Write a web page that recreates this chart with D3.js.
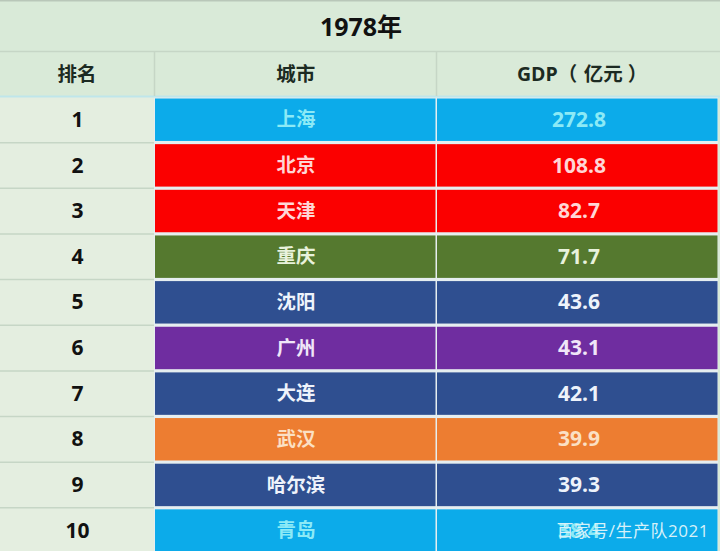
<!DOCTYPE html>
<html>
<head>
<meta charset="utf-8">
<script src="https://cdn.jsdelivr.net/npm/d3@7"></script>
<style>
html,body{margin:0;padding:0;background:#dcead9;overflow:hidden;}
text{font-family:"Open Sans","Noto Sans CJK SC",sans-serif;font-weight:700;}
</style>
</head>
<body>
<svg class="chart" width="720" height="551"></svg>
<script>
var title = "1978年";
var headers = ["排名","城市"];
var gdpHeader = ["GDP","（","亿元","）"];
var ranks = [1,2,3,4,5,6,7,8,9,10];
var cities = ["上海","北京","天津","重庆","沈阳","广州","大连","武汉","哈尔滨","青岛"];
var gdp = [272.8,108.8,82.7,71.7,43.6,43.1,42.1,39.9,39.3,38.4];
var regions = ["华东","华北","华北","西南","东北","华南","东北","华中","东北","华东"];
var regionNames = ["华东","华北","西南","东北","华南","华中"];
var watermark = "百家号/生产队2021";

var width = 720, height = 551;
var svg = d3.select(".chart");

var fill = d3.scaleOrdinal().domain(regionNames).range(["#0cabea","#fb0000","#55792f","#2f4f90","#6f2da0","#ed7d31"]);
var ink = d3.scaleOrdinal().domain(regionNames).range(["#8ceaf6","#ffd6d6","#e8f2dc","#eef3fb","#f0e6f8","#fbe0c4"]);

var y = d3.scaleBand().domain(ranks).range([97.5,554]);
var colX = [0,155,436.5,717.5];

// page background, slightly lighter in the rank column
svg.append("rect").attr("width",width).attr("height",height).attr("fill","#d9ead8");
svg.append("rect").attr("y",97).attr("width",154).attr("height",height-97).attr("fill","#e4eee0");
svg.append("rect").attr("x",154).attr("y",97).attr("width",564).attr("height",height-97).attr("fill","#e6eef0");
svg.append("rect").attr("width",width).attr("height",1.5).attr("fill","#b9c7b9");

var rule = "#c6d6c6";
svg.append("line").attr("x1",0).attr("x2",width).attr("y1",51.5).attr("y2",51.5).attr("stroke",rule).attr("stroke-width",1.5);
svg.append("line").attr("x1",0).attr("x2",width).attr("y1",96.5).attr("y2",96.5).attr("stroke","#bfe6ea").attr("stroke-width",2);
[colX[1]-0.5,colX[2]].forEach(function(x){
	svg.append("line").attr("x1",x).attr("x2",x).attr("y1",52).attr("y2",96).attr("stroke",rule).attr("stroke-width",1.5);
});

svg.append("text").attr("x",361).attr("y",27).attr("dy",".35em").attr("text-anchor","middle")
	.attr("font-size",25).attr("fill","#111").text(title);

svg.selectAll("text.head").data(headers).enter().append("text").attr("class","head")
	.attr("x",function(d,i){return i==0 ? 77 : (colX[i]+colX[i+1])/2;})
	.attr("y",74).attr("dy",".35em").attr("text-anchor","middle")
	.attr("font-size",19.5).attr("fill","#1c2a22").text(function(d){return d;});

// the reference sets its full width brackets apart from the words
var gapBefore = [0,0,6.5,5];
svg.append("text").attr("x",517).attr("y",74).attr("dy",".35em").attr("font-size",19.5).attr("fill","#1c2a22")
	.selectAll("tspan").data(gdpHeader).enter().append("tspan")
	.attr("dx",function(d,i){return gapBefore[i];}).text(function(d){return d;});

var row = svg.selectAll("g.row").data(ranks).enter().append("g").attr("class","row")
	.attr("transform",function(d){return "translate(0,"+y(d)+")";});

// light rule under the rank cell
row.append("line").attr("x1",0).attr("x2",154).attr("y1",y.bandwidth()-0.5).attr("y2",y.bandwidth()-0.5)
	.attr("stroke",rule).attr("stroke-width",1.5);

row.append("rect").attr("x",colX[1]).attr("y",1).attr("width",colX[2]-colX[1]-1).attr("height",y.bandwidth()-3.2)
	.attr("fill",function(d,i){return fill(regions[i]);});
row.append("rect").attr("x",colX[2]+0.5).attr("y",1).attr("width",colX[3]-colX[2]-0.5).attr("height",y.bandwidth()-3.2)
	.attr("fill",function(d,i){return fill(regions[i]);});

var textY = y.bandwidth()/2 - 0.8;
row.append("text").attr("x",77.5).attr("y",textY).attr("dy",".35em").attr("text-anchor","middle")
	.attr("font-size",21).attr("fill","#111").text(function(d){return d;});
row.append("text").attr("x",296).attr("y",textY).attr("dy",".35em").attr("text-anchor","middle")
	.attr("font-size",19.5).attr("fill",function(d,i){return ink(regions[i]);}).text(function(d,i){return cities[i];});
row.append("text").attr("x",579).attr("y",textY).attr("dy",".35em").attr("text-anchor","middle")
	.attr("font-size",21).attr("fill",function(d,i){return ink(regions[i]);}).text(function(d,i){return gdp[i].toFixed(1);});

svg.append("text").attr("x",709).attr("y",531).attr("dy",".35em").attr("text-anchor","end")
	.attr("font-size",17).style("font-weight",400).style("letter-spacing","0.5px").attr("fill","#d6f1f9").text(watermark);
</script>
</body>
</html>
